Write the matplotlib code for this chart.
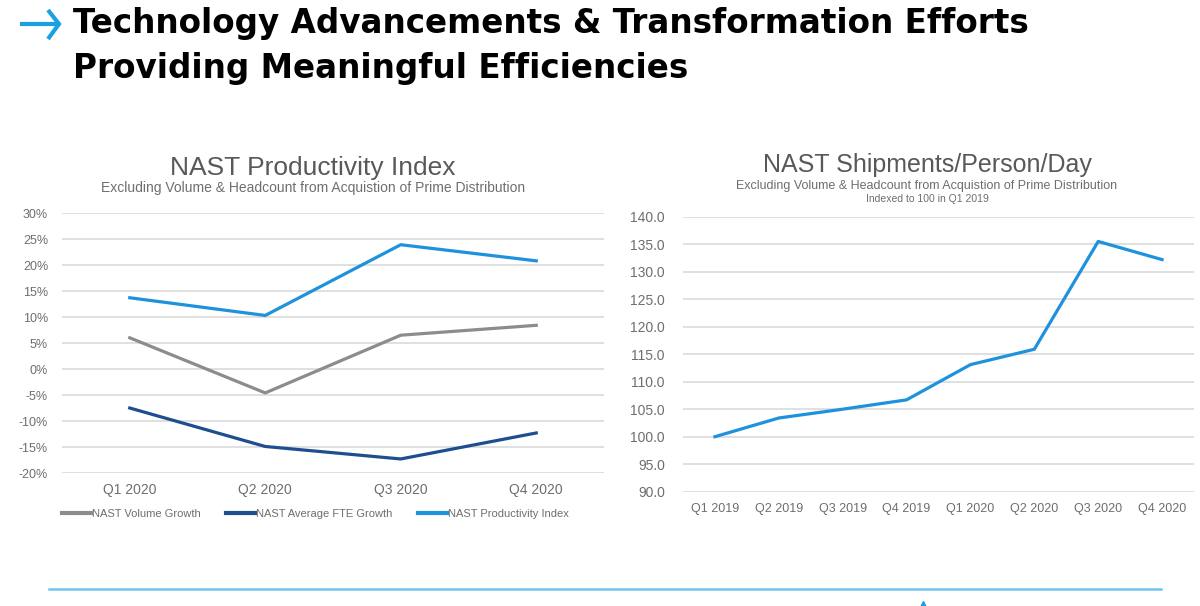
import matplotlib
matplotlib.use("Agg")
import matplotlib.pyplot as plt
from matplotlib.lines import Line2D

plt.rcParams['font.family'] = ['Liberation Sans', 'DejaVu Sans']

# ---- data ----
left_categories = ["Q1 2020", "Q2 2020", "Q3 2020", "Q4 2020"]
volume_growth = [6.0, -4.6, 6.5, 8.4]
fte_growth = [-7.5, -14.9, -17.3, -12.3]
productivity_index = [13.7, 10.3, 23.9, 20.8]
left_yticks = [-20, -15, -10, -5, 0, 5, 10, 15, 20, 25, 30]

right_categories = ["Q1 2019", "Q2 2019", "Q3 2019", "Q4 2019",
                    "Q1 2020", "Q2 2020", "Q3 2020", "Q4 2020"]
shipments_per_person = [100.0, 103.4, 105.0, 106.7, 113.1, 115.9, 135.5, 132.2]
right_yticks = [90, 95, 100, 105, 110, 115, 120, 125, 130, 135, 140]

W, H = 1200, 606
fig = plt.figure(figsize=(12, 6.06), dpi=100)
fx = lambda x: x / W
fy = lambda y: 1 - y / H

GREY = '#8C8C8C'
DARK = '#1F4E8F'
LIGHT = '#1E92DC'
GRID = '#DDDDDD'
TICK = '#6E6E6E'
TTL = '#595959'

# ---- main title ----
TFONT = ['DejaVu Sans']
fig.text(fx(73), fy(33), "Technology Advancements & Transformation Efforts",
         fontsize=23.5, weight='bold', color='black', va='baseline', ha='left',
         family=TFONT)
fig.text(fx(73), fy(78), "Providing Meaningful Efficiencies",
         fontsize=23.5, weight='bold', color='black', va='baseline', ha='left',
         family=TFONT)
# arrow
ac = '#1BA1E2'
fig.add_artist(Line2D([fx(20), fx(58)], [fy(24), fy(24)], color=ac, lw=3.0,
                      solid_capstyle='butt'))
fig.add_artist(Line2D([fx(48), fx(59), fx(48)], [fy(10), fy(24), fy(39)],
                      color=ac, lw=3.0, solid_joinstyle='miter', solid_capstyle='butt'))

# ---- left chart ----
axL = fig.add_axes([fx(62), fy(473), (604 - 62) / W, (473 - 213) / H])
xL = list(range(len(left_categories)))
axL.plot(xL, volume_growth, color=GREY, lw=2.3, label="NAST Volume Growth")
axL.plot(xL, fte_growth, color=DARK, lw=2.3, label="NAST Average FTE Growth")
axL.plot(xL, productivity_index, color=LIGHT, lw=2.3, label="NAST Productivity Index")
axL.set_xlim(-0.5, len(left_categories) - 0.5)
axL.set_ylim(-20, 30)
axL.set_yticks(left_yticks)
axL.set_yticklabels([f"{v}%" for v in left_yticks], fontsize=9, color=TICK)
axL.set_xticks(xL)
axL.set_xticklabels(left_categories, fontsize=10, color=TICK)
axL.tick_params(axis='both', length=0)
axL.tick_params(axis='y', pad=10)
axL.tick_params(axis='x', pad=7)
for s in axL.spines.values():
    s.set_visible(False)
axL.grid(axis='y', color=GRID, lw=1.3)
axL.set_axisbelow(True)
leg = axL.legend(loc='center left', bbox_to_anchor=(fx(62), fy(514)),
                 bbox_transform=fig.transFigure, ncol=3, frameon=False,
                 fontsize=8, handlelength=2.6, handletextpad=0.1,
                 columnspacing=2.3, borderpad=0, borderaxespad=0)
for t in leg.get_texts():
    t.set_color(TICK)
for h in leg.get_lines():
    h.set_linewidth(3)

fig.text(fx(313), fy(175), "NAST Productivity Index", fontsize=19, color=TTL,
         ha='center', va='baseline')
fig.text(fx(313), fy(192), "Excluding Volume & Headcount from Acquistion of Prime Distribution",
         fontsize=10, color=TICK, ha='center', va='baseline')

# ---- right chart ----
axR = fig.add_axes([fx(683), fy(491.7), (1194 - 683) / W, (491.7 - 216.7) / H])
xR = list(range(len(right_categories)))
axR.plot(xR, shipments_per_person, color=LIGHT, lw=2.3)
axR.set_xlim(-0.5, len(right_categories) - 0.5)
axR.set_ylim(90, 140)
axR.set_yticks(right_yticks)
axR.set_yticklabels([f"{v:.1f}" for v in right_yticks], fontsize=10, color=TICK)
axR.set_xticks(xR)
axR.set_xticklabels(right_categories, fontsize=9, color=TICK)
axR.tick_params(axis='both', length=0)
axR.tick_params(axis='y', pad=13)
axR.tick_params(axis='x', pad=8)
for s in axR.spines.values():
    s.set_visible(False)
axR.grid(axis='y', color=GRID, lw=1.3)
axR.set_axisbelow(True)

fig.text(fx(927), fy(172), "NAST Shipments/Person/Day", fontsize=18, color=TTL,
         ha='center', va='baseline')
fig.text(fx(927), fy(189), "Excluding Volume & Headcount from Acquistion of Prime Distribution",
         fontsize=9, color=TICK, ha='center', va='baseline')
fig.text(fx(927), fy(202), "Indexed to 100 in Q1 2019",
         fontsize=7.5, color=TICK, ha='center', va='baseline')

# ---- bottom rule ----
fig.add_artist(Line2D([fx(49), fx(1161)], [fy(589), fy(589)], color='#6EC6EE', lw=1.8))
fig.add_artist(Line2D([fx(923)], [fy(606)], marker='^', markersize=7,
                      color='#1BA1E2', lw=0))

fig.savefig("out.png", dpi=100)
